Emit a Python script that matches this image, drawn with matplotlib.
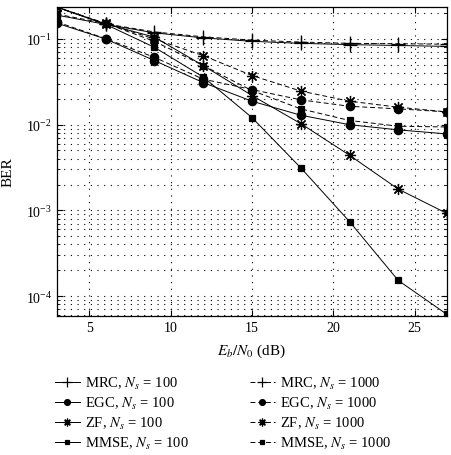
import numpy as np
import matplotlib
matplotlib.use("Agg")
import matplotlib.pyplot as plt
from matplotlib.ticker import LogLocator, NullFormatter

plt.rcParams["font.family"] = ["Liberation Serif", "DejaVu Serif"]
plt.rcParams["mathtext.fontset"] = "stix"

# Eb/N0 values (dB)
ebn0 = [3, 6, 9, 12, 15, 18, 21, 24, 27]

# BER
mrc_100 = [0.235, 0.148, 0.118, 0.103, 0.094, 0.089, 0.086, 0.084, 0.082]
mrc_1000 = [0.235, 0.150, 0.121, 0.106, 0.097, 0.092, 0.089, 0.088, 0.087]
egc_100 = [0.153, 0.100, 0.056, 0.031, 0.0188, 0.0129, 0.0100, 0.0087, 0.0078]
egc_1000 = [0.158, 0.101, 0.061, 0.034, 0.0257, 0.0195, 0.0164, 0.0153, 0.0141]
zf_100 = [0.235, 0.150, 0.105, 0.049, 0.0219, 0.0103, 0.0044, 0.00177, 0.00092]
zf_1000 = [0.235, 0.152, 0.100, 0.064, 0.0375, 0.0247, 0.0188, 0.0160, 0.0141]
mmse_100 = [0.190, 0.148, 0.080, 0.036, 0.0121, 0.00314, 0.00074, 0.000152, 0.000061]
mmse_1000 = [0.195, 0.152, 0.094, 0.049, 0.0250, 0.0153, 0.0112, 0.0096, 0.0094]

labels_100 = [r"MRC, $N_s$ = 100", r"EGC, $N_s$ = 100",
              r"ZF, $N_s$ = 100", r"MMSE, $N_s$ = 100"]
labels_1000 = [r"MRC, $N_s$ = 1000", r"EGC, $N_s$ = 1000",
               r"ZF, $N_s$ = 1000", r"MMSE, $N_s$ = 1000"]

star = (8, 2, 0)  # 8-arm asterisk like the matlab '*'
markers = ["+", "o", star, "s"]
msizes = [10, 6, 8, 5]

fig = plt.figure(figsize=(4.52, 4.56), dpi=100)
ax = fig.add_axes([0.126, 0.3055, 0.863, 0.6765])

handles = []
for series, lab, m, ms in zip([mrc_100, egc_100, zf_100, mmse_100], labels_100, markers, msizes):
    h, = ax.semilogy(ebn0, series, color="black", linestyle="-", linewidth=0.7,
                     marker=m, markersize=ms, markeredgewidth=0.9, label=lab)
    handles.append(h)
for series, lab, m, ms in zip([mrc_1000, egc_1000, zf_1000, mmse_1000], labels_1000, markers, msizes):
    h, = ax.semilogy(ebn0, series, color="black", linestyle=(0, (5, 3)), linewidth=0.7,
                     marker=m, markersize=ms, markeredgewidth=0.9, label=lab)
    handles.append(h)

ax.set_xlim(3, 27)
ax.set_ylim(5.9e-5, 0.235)
ax.set_xticks([5, 10, 15, 20, 25])
ax.yaxis.set_major_locator(LogLocator(base=10, numticks=10))
ax.yaxis.set_minor_locator(LogLocator(base=10, subs=np.arange(2, 10), numticks=20))
ax.yaxis.set_minor_formatter(NullFormatter())

ax.tick_params(which="both", direction="in", top=True, right=True, labelsize=10)
ax.tick_params(which="major", length=4)
ax.tick_params(which="minor", length=2)
ax.grid(True, which="major", axis="both", linestyle=(0, (1, 5)), color="black", linewidth=0.8)
ax.grid(True, which="minor", axis="y", linestyle=(0, (1, 5)), color="black", linewidth=0.8)
for sp in ax.spines.values():
    sp.set_linewidth(0.9)

ax.set_xlabel(r"$E_b/N_0$ (dB)", fontsize=11, labelpad=6)
ax.set_ylabel("BER", fontsize=11)
ax.yaxis.set_label_coords(-0.108, 0.47)

fig.legend(handles=handles, loc="upper left", bbox_to_anchor=(0.115, 0.181),
           ncol=2, frameon=False, fontsize=10.5, handlelength=1.7,
           columnspacing=4.2, labelspacing=0.26, handletextpad=0.35,
           borderaxespad=0.0, borderpad=0.2, markerscale=0.7)

fig.savefig("out.png", dpi=100)
